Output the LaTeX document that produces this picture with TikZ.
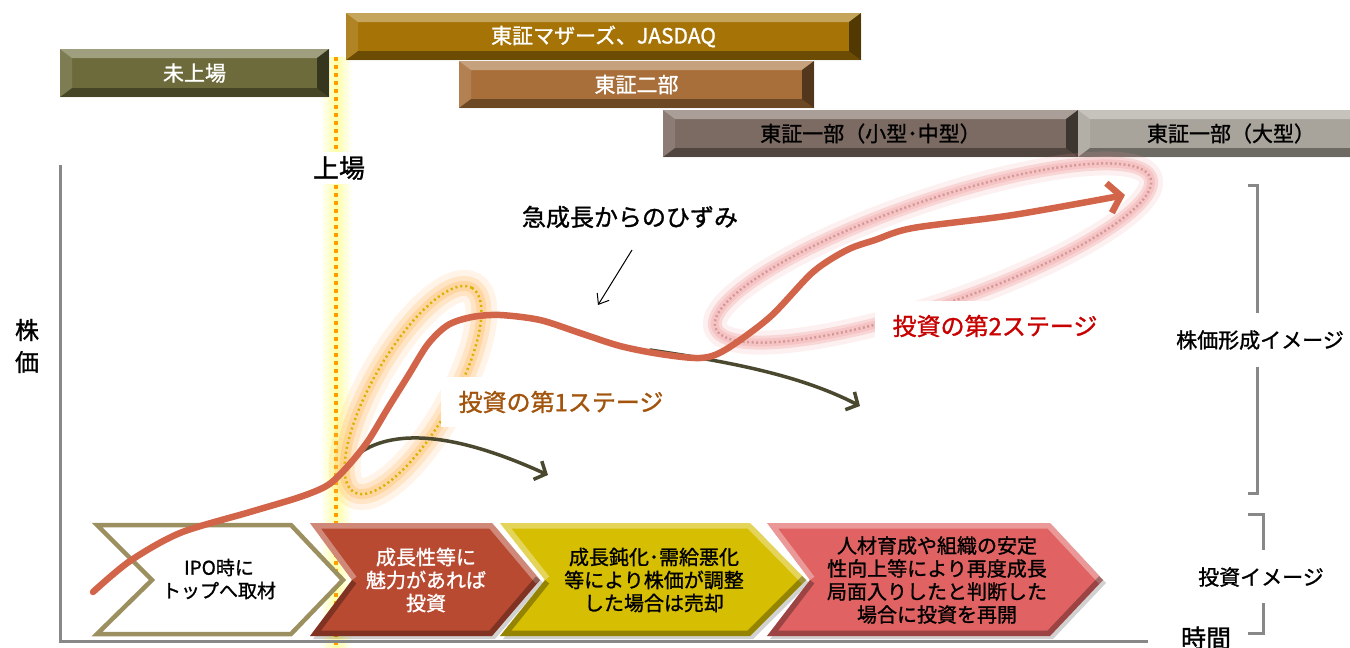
\documentclass[tikz,border=0pt]{standalone}
\usepackage{fontspec}
\setmainfont{Noto Sans CJK JP}[BoldFont={Noto Sans CJK JP}, BoldFeatures={FakeBold=1.2}]
\usetikzlibrary{arrows.meta}
\definecolor{olivebar}{HTML}{6D6B3B}
\definecolor{mothers}{HTML}{A67406}
\definecolor{nibu}{HTML}{A86F3A}
\definecolor{ichism}{HTML}{7B6B62}
\definecolor{ichilg}{HTML}{A8A49B}
\definecolor{curvec}{HTML}{D2644A}
\definecolor{branchc}{HTML}{4A482E}
\definecolor{chevA}{HTML}{9C9060}
\definecolor{chevB}{HTML}{B84A32}
\definecolor{chevC}{HTML}{D6BE02}
\definecolor{chevD}{HTML}{E06262}
\definecolor{axisgray}{HTML}{888888}
\definecolor{stageone}{HTML}{A3540C}
\definecolor{stagetwo}{HTML}{C80000}
\definecolor{ipoline}{HTML}{FFA000}
\definecolor{dotyellow}{HTML}{D6B400}
\definecolor{glowor}{HTML}{FFB860}
\definecolor{glowpk}{HTML}{F09A9A}
\definecolor{dotpink}{HTML}{D49A9A}
\newcommand\bevchev[7]{%
  \fill[black,opacity=.18,shift={(3,3)}] #1 -- #2 -- #3 -- #4 -- #5 -- #6 -- cycle;
  \fill[#7] #1 -- #2 -- #3 -- #4 -- #5 -- #6 -- cycle;
  \begin{scope}
    \clip #1 -- #2 -- #3 -- #4 -- #5 -- #6 -- cycle;
    \draw[white,opacity=.35,line width=11pt,line join=miter] #6 -- #1 -- #2 -- #3;
    \draw[black,opacity=.3,line width=11pt,line join=miter] #3 -- #4 -- #5 -- #6;
  \end{scope}}
\tikzset{
  bevel/.style={path picture={
    \fill[white,opacity=.35] (path picture bounding box.north west) -- (path picture bounding box.north east) -- ([xshift=-12pt,yshift=-9pt]path picture bounding box.north east) -- ([xshift=12pt,yshift=-9pt]path picture bounding box.north west) -- cycle;
    \fill[black,opacity=.35] (path picture bounding box.south west) -- (path picture bounding box.south east) -- ([xshift=-12pt,yshift=9pt]path picture bounding box.south east) -- ([xshift=12pt,yshift=9pt]path picture bounding box.south west) -- cycle;
    \fill[white,opacity=.12] (path picture bounding box.north west) -- ([xshift=12pt,yshift=-9pt]path picture bounding box.north west) -- ([xshift=12pt,yshift=9pt]path picture bounding box.south west) -- (path picture bounding box.south west) -- cycle;
    \fill[black,opacity=.5] (path picture bounding box.north east) -- ([xshift=-12pt,yshift=-9pt]path picture bounding box.north east) -- ([xshift=-12pt,yshift=9pt]path picture bounding box.south east) -- (path picture bounding box.south east) -- cycle;
  }},
  bar/.style={bevel, inner sep=0pt, font=\fontsize{21}{24}\selectfont\bfseries},
  chevtext/.style={align=center, font=\fontsize{20}{23}\selectfont\bfseries, inner sep=0pt},
  lbl/.style={font=\fontsize{21}{24}\selectfont\bfseries, inner sep=1pt},
  brk/.style={draw=axisgray, line width=3pt},
  stagelbl/.style={fill=white, font=\fontsize{24}{27}\selectfont\bfseries, inner xsep=18pt, inner ysep=14pt},
}
\begin{document}
\begin{tikzpicture}[x=1pt,y=-1pt]
\path[use as bounding box] (0,0) rectangle (1350,648);
\clip (0,0) rectangle (1350,648);

% IPO vertical line with glow
\shade[left color=white, right color=white, middle color=yellow!35] (320,57) rectangle (352,648);
\draw[ipoline, line width=3.5pt, dash pattern=on 3.5pt off 4.5pt] (336,57) -- (336,648);
\node[fill=white, font=\fontsize{26}{28}\selectfont\bfseries, inner sep=4pt] (jojo) at (339,168) {上場};

% top bars
\node[bar, fill=olivebar, text=white, minimum width=269pt, minimum height=48pt] (b0) at (194.5,73) {未上場};
\node[bar, fill=mothers, text=white, minimum width=515pt, minimum height=47pt] (b1) at (603.5,36.5) {東証マザーズ、JASDAQ};
\node[bar, fill=nibu, text=white, minimum width=355pt, minimum height=47pt] (b2) at (636.5,84.5) {東証二部};
\node[bar, fill=ichism, text=black, minimum width=415pt, minimum height=47pt] (b3) at (870.5,133.5) {東証一部（小型･中型）};
\node[bar, fill=ichilg, text=black, minimum width=306pt, minimum height=47pt] (b4) at (1231,133.5) {東証一部（大型）};

% axes
\draw[axisgray, line width=3pt] (60,165) -- (60,641) -- (1148,641);
\node[lbl, align=center, font=\fontsize{24}{32}\selectfont\bfseries] (kabu) at (27,346) {株\\価};
\node[lbl, font=\fontsize{25}{27}\selectfont\bfseries] (jikan) at (1206,638) {時間};

% brackets
\node[lbl] (kabuimg) at (1260,340) {株価形成イメージ};
\draw[brk] (1248,185) -- (1257,185) -- (1257,313);
\draw[brk] (1257,367) -- (1257,493) -- (1248,493);
\node[lbl] (toshiimg) at (1261,577) {投資イメージ};
\draw[brk] (1248,514) -- (1263,514) -- (1263,550);
\draw[brk] (1263,603) -- (1263,633) -- (1248,633);

% glowing ellipses
\draw[glowor, opacity=.15, line width=32pt, rotate around={60:(413,390)}] (413,390) ellipse [x radius=118, y radius=40];
\draw[glowor, opacity=.25, line width=20pt, rotate around={60:(413,390)}] (413,390) ellipse [x radius=118, y radius=40];
\draw[glowor, opacity=.35, line width=10pt, rotate around={60:(413,390)}] (413,390) ellipse [x radius=118, y radius=40];
\draw[dotyellow, line width=2.5pt, dash pattern=on 2pt off 3pt, rotate around={60:(413,390)}] (413,390) ellipse [x radius=118, y radius=40];
\draw[glowpk, opacity=.15, line width=24pt, rotate around={19:(933,253)}] (933,253) ellipse [x radius=230, y radius=52];
\draw[glowpk, opacity=.3, line width=14pt, rotate around={19:(933,253)}] (933,253) ellipse [x radius=230, y radius=52];
\draw[glowpk, opacity=.3, line width=8pt, rotate around={19:(933,253)}] (933,253) ellipse [x radius=230, y radius=52];
\draw[dotpink, line width=2.5pt, dash pattern=on 2pt off 2.5pt, rotate around={19:(933,253)}] (933,253) ellipse [x radius=230, y radius=52];

% stage labels
\node[stagelbl, text=stageone] (st1) at (561,402) {投資の第1ステージ};
\node[stagelbl, text=stagetwo] (st2) at (995,326) {投資の第2ステージ};

% distortion label
\node[font=\fontsize{24}{27}\selectfont\bfseries] (hizumi) at (630,217) {急成長からのひずみ};
\coordinate (hz1) at (632,250);
\coordinate (hz2) at (598,305);
\draw[line width=1pt, -{Straight Barb[length=9pt,width=14pt]}] (hz1) -- (hz2);

% chevrons
\filldraw[fill=white, draw=chevA, line width=4.5pt, line join=miter] (97,525) -- (291,525) -- (343,580) -- (291,634) -- (97,634) -- (152,580) -- cycle;
\bevchev{(310,523)}{(492,523)}{(540,580)}{(492,636)}{(310,636)}{(352,580)}{chevB}
\bevchev{(500,523)}{(750,523)}{(806,580)}{(750,636)}{(500,636)}{(545,580)}{chevC}
\bevchev{(767,523)}{(1050,523)}{(1103,580)}{(1050,636)}{(767,636)}{(810,580)}{chevD}
\node[chevtext, font=\fontsize{19}{23}\selectfont\bfseries] (s1) at (219,579) {IPO時に\\トップへ取材};
\node[chevtext, text=white] (s2) at (426,580) {成長性等に\\魅力があれば\\投資};
\node[chevtext] (s3) at (654,580) {成長鈍化･需給悪化\\等により株価が調整\\した場合は売却};
\node[chevtext] (s4) at (937,580) {人材育成や組織の安定\\性向上等により再度成長\\局面入りしたと判断した\\場合に投資を再開};

% branch arrows
\coordinate (br1a) at (353,458);
\coordinate (br1b) at (548,475);
\coordinate (br2a) at (650,350);
\coordinate (br2b) at (860,406);
\draw[branchc, line width=3.5pt, line cap=round, -{Straight Barb[length=9pt,width=20pt]}] (br1a) .. controls (385,430) and (445,428) .. (br1b);
\draw[branchc, line width=3.5pt, line cap=round, -{Straight Barb[length=9pt,width=20pt]}] (br2a) .. controls (730,362) and (800,375) .. (br2b);

% main curve
\draw[curvec, line width=6.5pt, line cap=round, line join=round, -{Straight Barb[length=12pt,width=30pt]}]
  plot[smooth, tension=0.5] coordinates {(93,592) (130,561) (180,533) (250,512) (300,497) (328,485) (348,466) (368,441) (388,408) (408,376) (428,344) (448,325) (472,317) (500,315) (540,320) (580,333) (620,346) (660,354) (700,358) (725,350) (770,317) (813,272) (847,250) (875,240) (913,228) (1013,215) (1125,195)};
\end{tikzpicture}
\end{document}
